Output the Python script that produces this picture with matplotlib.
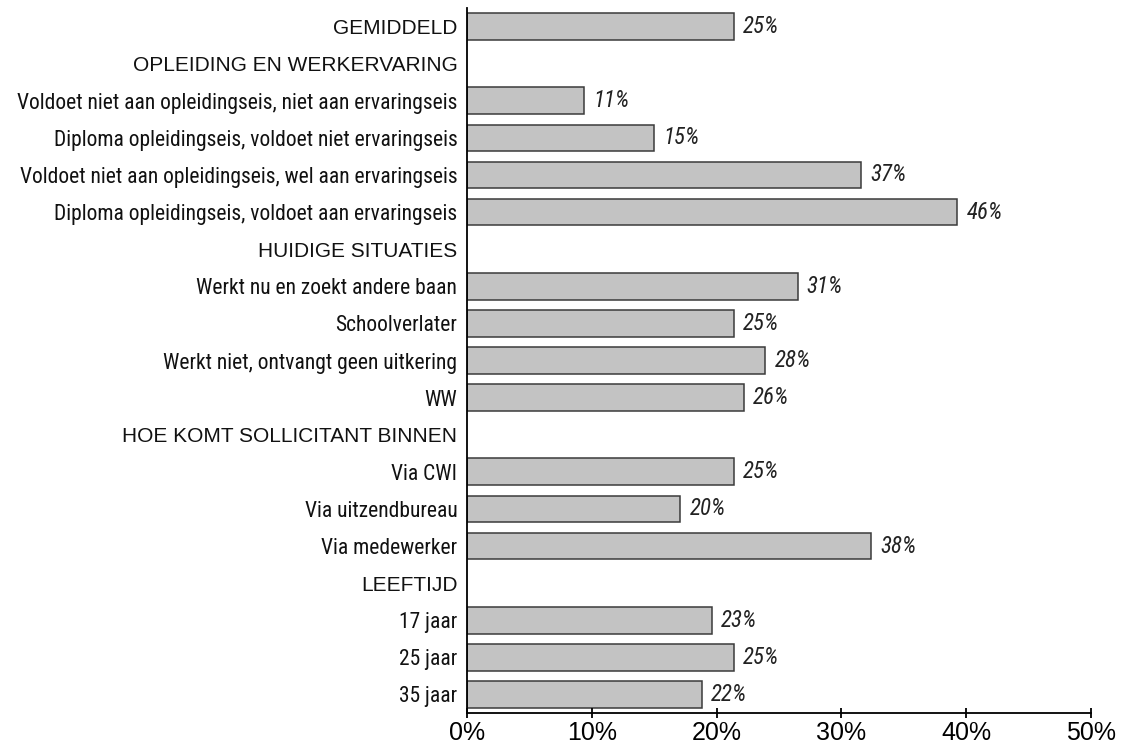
import matplotlib
matplotlib.use("Agg")
import matplotlib.pyplot as plt
import numpy as np

# rows from top to bottom; headers have no bar (None)
labels = [
    "GEMIDDELD",
    "OPLEIDING EN WERKERVARING",
    "Voldoet niet aan opleidingseis, niet aan ervaringseis",
    "Diploma opleidingseis, voldoet niet ervaringseis",
    "Voldoet niet aan opleidingseis, wel aan ervaringseis",
    "Diploma opleidingseis, voldoet aan ervaringseis",
    "HUIDIGE SITUATIES",
    "Werkt nu en zoekt andere baan",
    "Schoolverlater",
    "Werkt niet, ontvangt geen uitkering",
    "WW",
    "HOE KOMT SOLLICITANT BINNEN",
    "Via CWI",
    "Via uitzendbureau",
    "Via medewerker",
    "LEEFTIJD",
    "17 jaar",
    "25 jaar",
    "35 jaar",
]
is_header = [True, True, False, False, False, False, True, False, False, False, False,
             True, False, False, False, True, False, False, False]

# bar lengths as drawn against the axis (%)
bar_values = [21.4, None, 9.4, 15.0, 31.6, 39.3, None, 26.5, 21.4, 23.9, 22.2,
              None, 21.4, 17.1, 32.4, None, 19.6, 21.4, 18.8]
# printed value labels
value_labels = ["25%", None, "11%", "15%", "37%", "46%", None, "31%", "25%", "28%", "26%",
                None, "25%", "20%", "38%", None, "23%", "25%", "22%"]

xticks = [0, 10, 20, 30, 40, 50]
xtick_labels = ["0%", "10%", "20%", "30%", "40%", "50%"]

narrow = ["Roboto Condensed", "Archivo Narrow", "Liberation Sans", "DejaVu Sans"]
regular = ["Liberation Sans", "DejaVu Sans"]

fig = plt.figure(figsize=(11.32, 7.46), dpi=100)
ax = fig.add_axes([467 / 1132, 1 - 713 / 746, (1091 - 467) / 1132, (713 - 8) / 746])

y = np.arange(len(labels))
for i, v in enumerate(bar_values):
    if v is None:
        continue
    ax.barh(y[i], v, height=0.72, color="#c3c3c3", edgecolor="#3a3a3a", linewidth=1.1)
    ax.annotate(value_labels[i], (v, y[i]), xytext=(6.5, 0), textcoords="offset points",
                ha="left", va="center", fontsize=16.5, style="italic",
                family=narrow, color="#222222")

ax.set_xlim(0, 50)
ax.set_ylim(len(labels) - 0.5, -0.5)

ax.set_yticks(y)
ax.set_yticklabels(labels)
ax.tick_params(axis="y", length=0, pad=7)
for lab, h in zip(ax.get_yticklabels(), is_header):
    if h:
        lab.set_family(regular)
        lab.set_fontsize(15)
    else:
        lab.set_family(narrow)
        lab.set_fontsize(15.5)
    lab.set_color("#111111")

ax.set_xticks(xticks)
ax.set_xticklabels(xtick_labels, family=regular, fontsize=18)
ax.tick_params(axis="x", direction="inout", length=7.5, width=1.3, pad=2)

for s in ["top", "right"]:
    ax.spines[s].set_visible(False)
ax.spines["left"].set_linewidth(1.3)
ax.spines["bottom"].set_linewidth(1.3)

fig.savefig("out.png", dpi=100)
